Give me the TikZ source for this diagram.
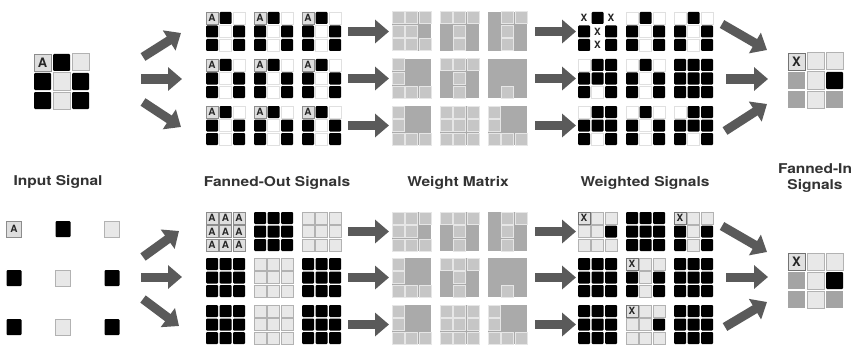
\documentclass[tikz,border=0pt]{standalone}
\usepackage{fontspec}
\setmainfont{TeX Gyre Heros}
\usetikzlibrary{arrows.meta}
\definecolor{arr}{HTML}{5A5A5A}
\definecolor{wbgc}{HTML}{AAAAAA}
\definecolor{wlc}{HTML}{C6C6C6}
\definecolor{wlb}{HTML}{E6E6E6}
\definecolor{gc}{HTML}{A4A4A4}
\def\cellTA{A}
\def\cellTX{X}
\def\cellTY{X}
\tikzset{
  sc/.style={inner sep=0pt, minimum size=12pt, font=\fontsize{10}{10}\selectfont\bfseries},
  bc/.style={inner sep=0pt, minimum size=17pt, font=\fontsize{13}{13}\selectfont\bfseries},
  cK/.style={fill=black, rounded corners=1pt},
  cW/.style={fill=black!9, draw=black!30, line width=1pt},
  cV/.style={fill=white, draw=black!12, line width=0.8pt},
  cA/.style={fill=black!13, draw=black!45, line width=0.6pt, text=black!85},
  cX/.style={fill=black!12, draw=black!55, line width=0.6pt, text=black!85},
  cY/.style={fill=white, text=black!85},
  cG/.style={fill=gc},
  cL/.style={fill=wlc, draw=wlb, line width=1pt},
  cD/.style={},
  wbg/.style={fill=wbgc, inner sep=0pt, minimum size=39pt},
  bigarrow/.style={draw=arr, line width=9pt, -{Triangle[width=23pt,length=14pt]}},
  lbl/.style={font=\fontsize{13.5}{16}\selectfont\bfseries, text=black!80, align=center, xscale=1.15}
}
% small grid: name, left, top, list
\newcommand\sgrid[4]{%
  \foreach \t [count=\i from 0] in {#4} {%
    \pgfmathtruncatemacro\rr{\i/3}%
    \pgfmathtruncatemacro\cc{\i-3*\rr}%
    \node[sc, c\t] (#1-\i) at ({#2+\cc*13.5+6},{#3+\rr*13.5+6}) {\csname cellT\t\endcsname};
  }}
% weight grid
\newcommand\wgrid[4]{%
  \node[wbg] (#1) at ({#2+19.5},{#3+19.5}) {};
  \sgrid{#1}{#2}{#3}{#4}}
% big grid
\newcommand\bgrid[4]{%
  \foreach \t [count=\i from 0] in {#4} {%
    \pgfmathtruncatemacro\rr{\i/3}%
    \pgfmathtruncatemacro\cc{\i-3*\rr}%
    \node[bc, c\t] (#1-\i) at ({#2+\cc*19+8.5},{#3+\rr*19+8.5}) {\csname cellT\t\endcsname};
  }}
\begin{document}
\begin{tikzpicture}[x=1pt,y=-1pt]
\useasboundingbox (0,0) rectangle (854,345);
\fill[white] (0,0) rectangle (854,345);

% ===== TOP SECTION =====
\bgrid{tin}{34}{54}{A,K,W,K,W,K,K,W,K}
\foreach \r/\yy in {1/12,2/59,3/106}{
  \foreach \c/\xx in {1/206,2/254,3/302}{
    \sgrid{tf\r\c}{\xx}{\yy}{A,K,V,K,V,K,K,V,K}
  }}
\wgrid{tw11}{392}{12}{L,L,L,L,L,D,L,L,L}
\wgrid{tw12}{440}{12}{L,L,L,D,L,D,D,L,D}
\wgrid{tw13}{488}{12}{D,L,L,D,L,D,D,L,D}
\wgrid{tw21}{392}{59}{L,D,D,L,D,D,L,L,L}
\wgrid{tw22}{440}{59}{L,L,L,D,L,D,D,L,D}
\wgrid{tw23}{488}{59}{D,D,D,D,D,D,D,L,D}
\wgrid{tw31}{392}{106}{L,D,D,L,D,D,L,L,L}
\wgrid{tw32}{440}{106}{L,L,L,L,L,L,L,L,L}
\wgrid{tw33}{488}{106}{L,D,D,L,D,D,L,L,L}
\sgrid{ts11}{578}{12}{Y,K,Y,K,Y,K,K,Y,K}
\sgrid{ts12}{626}{12}{V,K,V,K,V,K,K,V,K}
\sgrid{ts13}{674}{12}{V,K,V,K,V,K,K,V,K}
\sgrid{ts21}{578}{59}{V,K,K,K,K,K,K,V,K}
\sgrid{ts22}{626}{59}{V,K,V,K,V,K,K,V,K}
\sgrid{ts23}{674}{59}{K,K,K,K,K,K,K,K,K}
\sgrid{ts31}{578}{106}{V,K,K,K,K,K,K,V,K}
\sgrid{ts32}{626}{106}{V,K,V,K,V,K,K,V,K}
\sgrid{ts33}{674}{106}{V,K,K,K,K,K,K,V,K}
\bgrid{tout}{788}{53}{X,W,W,G,W,K,G,W,G}

% top arrows
\coordinate (a1s) at (143,57);  \coordinate (a1e) at (181,33);
\coordinate (a2s) at (141,79);  \coordinate (a2e) at (182,79);
\coordinate (a3s) at (143,102); \coordinate (a3e) at (181,127);
\draw[bigarrow] (a1s) -- (a1e);
\draw[bigarrow] (a2s) -- (a2e);
\draw[bigarrow] (a3s) -- (a3e);
\foreach \k/\yy in {1/31.5,2/78.5,3/125.5}{
  \coordinate (h\k s) at (348,\yy); \coordinate (h\k e) at (389,\yy);
  \coordinate (g\k s) at (535,\yy); \coordinate (g\k e) at (576,\yy);
  \draw[bigarrow] (h\k s) -- (h\k e);
  \draw[bigarrow] (g\k s) -- (g\k e);
}
\coordinate (f1s) at (722,24);  \coordinate (f1e) at (767,50);
\coordinate (f2s) at (726,79);  \coordinate (f2e) at (768,79);
\coordinate (f3s) at (725,131); \coordinate (f3e) at (767,104);
\draw[bigarrow] (f1s) -- (f1e);
\draw[bigarrow] (f2s) -- (f2e);
\draw[bigarrow] (f3s) -- (f3e);

% ===== LABELS =====
\node[lbl] (l1) at (58,182) {Input Signal};
\node[lbl] (l2) at (277,183) {Fanned-Out Signals};
\node[lbl] (l3) at (458,183) {Weight Matrix};
\node[lbl] (l4) at (645,183) {Weighted Signals};
\node[lbl] (l5) at (815,178) {Fanned-In\\Signals};

% ===== BOTTOM SECTION =====
\foreach \t [count=\i from 0] in {A,K,W,K,W,K,K,W,K}{
  \pgfmathtruncatemacro\rr{\i/3}
  \pgfmathtruncatemacro\cc{\i-3*\rr}
  \pgfmathsetmacro\px{14+\cc*49}
  \pgfmathsetmacro\py{229+\rr*49}
  \node[sc, c\t, minimum width=15pt, minimum height=16pt] (bin-\i) at (\px,\py) {\csname cellT\t\endcsname};
}
\sgrid{bf11}{206}{212}{A,A,A,A,A,A,A,A,A}
\sgrid{bf12}{254}{212}{K,K,K,K,K,K,K,K,K}
\sgrid{bf13}{302}{212}{W,W,W,W,W,W,W,W,W}
\sgrid{bf21}{206}{258}{K,K,K,K,K,K,K,K,K}
\sgrid{bf22}{254}{258}{W,W,W,W,W,W,W,W,W}
\sgrid{bf23}{302}{258}{K,K,K,K,K,K,K,K,K}
\sgrid{bf31}{206}{305}{K,K,K,K,K,K,K,K,K}
\sgrid{bf32}{254}{305}{W,W,W,W,W,W,W,W,W}
\sgrid{bf33}{302}{305}{K,K,K,K,K,K,K,K,K}
\wgrid{bw11}{392}{212}{L,L,L,L,L,D,L,L,L}
\wgrid{bw12}{440}{212}{L,L,L,D,L,D,D,L,D}
\wgrid{bw13}{488}{212}{D,L,L,D,L,D,D,L,D}
\wgrid{bw21}{392}{258}{L,D,D,L,D,D,L,L,L}
\wgrid{bw22}{440}{258}{L,L,L,D,L,D,D,L,D}
\wgrid{bw23}{488}{258}{D,D,D,D,D,D,D,L,D}
\wgrid{bw31}{392}{305}{L,D,D,L,D,D,L,L,L}
\wgrid{bw32}{440}{305}{L,L,L,L,L,L,L,L,L}
\wgrid{bw33}{488}{305}{L,D,D,L,D,D,L,L,L}
\sgrid{bs11}{578}{212}{X,W,W,W,W,K,W,W,W}
\sgrid{bs12}{626}{212}{K,K,K,K,K,K,K,K,K}
\sgrid{bs13}{674}{212}{X,W,W,K,W,K,K,W,K}
\sgrid{bs21}{578}{258}{K,K,K,K,K,K,K,K,K}
\sgrid{bs22}{626}{258}{X,W,W,K,W,K,K,W,K}
\sgrid{bs23}{674}{258}{K,K,K,K,K,K,K,K,K}
\sgrid{bs31}{578}{305}{K,K,K,K,K,K,K,K,K}
\sgrid{bs32}{626}{305}{X,W,W,W,W,K,W,W,W}
\sgrid{bs33}{674}{305}{K,K,K,K,K,K,K,K,K}
\bgrid{bout}{788}{253}{X,W,W,G,W,K,G,W,G}

\coordinate (b1s) at (143,257); \coordinate (b1e) at (179,231);
\coordinate (b2s) at (141,277); \coordinate (b2e) at (182,277);
\coordinate (b3s) at (143,299); \coordinate (b3e) at (179,326);
\draw[bigarrow] (b1s) -- (b1e);
\draw[bigarrow] (b2s) -- (b2e);
\draw[bigarrow] (b3s) -- (b3e);
\foreach \k/\yy in {1/231.5,2/277.5,3/324.5}{
  \coordinate (p\k s) at (348,\yy); \coordinate (p\k e) at (389,\yy);
  \coordinate (q\k s) at (535,\yy); \coordinate (q\k e) at (576,\yy);
  \draw[bigarrow] (p\k s) -- (p\k e);
  \draw[bigarrow] (q\k s) -- (q\k e);
}
\coordinate (e1s) at (722,226); \coordinate (e1e) at (767,252);
\coordinate (e2s) at (726,277); \coordinate (e2e) at (768,277);
\coordinate (e3s) at (725,327); \coordinate (e3e) at (767,302);
\draw[bigarrow] (e1s) -- (e1e);
\draw[bigarrow] (e2s) -- (e2e);
\draw[bigarrow] (e3s) -- (e3e);
\end{tikzpicture}
\end{document}
